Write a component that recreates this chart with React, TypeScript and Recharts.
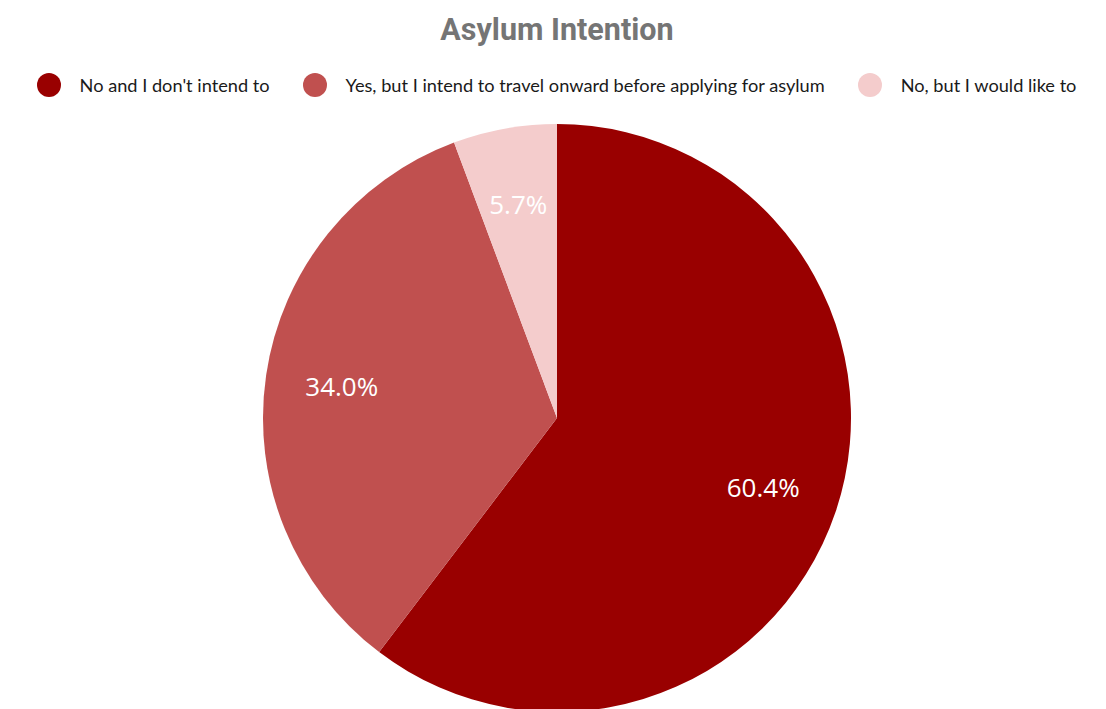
import React from 'react';
import { PieChart, Pie, Cell } from 'recharts';

const categories = [
  "No and I don't intend to",
  'Yes, but I intend to travel onward before applying for asylum',
  'No, but I would like to',
];
const values = [60.4, 34.0, 5.7];
const colors = ['#990000', '#C0504F', '#F4CCCC'];

const data = categories.map((name, i) => ({ name, value: values[i] }));

const RADIAN = Math.PI / 180;

const renderLabel = (props: any) => {
  const { cx, cy, midAngle, outerRadius, value } = props;
  const r = outerRadius * 0.74;
  const x = cx + r * Math.cos(-midAngle * RADIAN);
  const y = cy + r * Math.sin(-midAngle * RADIAN);
  return (
    <text
      x={x}
      y={y}
      fill="#ffffff"
      textAnchor="middle"
      dominantBaseline="central"
      style={{ fontFamily: '"Open Sans", sans-serif', fontSize: 26 }}
    >
      {`${Number(value).toFixed(1)}%`}
    </text>
  );
};

export default function App() {
  return (
    <div style={{ position: 'absolute', left: 0, top: 0, width: 1106, height: 709, background: '#fff', overflow: 'hidden' }}>
      <div
        style={{
          position: 'absolute',
          left: 0,
          top: 11,
          width: 1114,
          textAlign: 'center',
          fontFamily: 'Roboto, sans-serif',
          fontWeight: 700,
          fontSize: 30.5,
          color: '#757575',
          lineHeight: '38px',
        }}
      >
        Asylum Intention
      </div>
      <div
        style={{
          position: 'absolute',
          left: 0,
          top: 72,
          width: 1113,
          display: 'flex',
          justifyContent: 'center',
          alignItems: 'center',
          fontFamily: 'Lato, sans-serif',
          fontSize: 18.2,
          color: '#1a1a1a',
          height: 26,
        }}
      >
        {data.map((d, i) => (
          <div key={d.name} style={{ display: 'flex', alignItems: 'center', marginRight: i < data.length - 1 ? 33 : 0 }}>
            <span
              style={{
                display: 'inline-block',
                width: 24,
                height: 24,
                borderRadius: 12,
                background: colors[i],
                marginRight: 19,
              }}
            />
            <span style={{ whiteSpace: 'nowrap' }}>{d.name}</span>
          </div>
        ))}
      </div>
      <div style={{ position: 'absolute', left: 0, top: 0 }}>
        <PieChart width={1106} height={709} margin={{ top: 0, right: 0, bottom: 0, left: 0 }}>
          <Pie
            data={data}
            dataKey="value"
            nameKey="name"
            cx={557}
            cy={418}
            outerRadius={294}
            startAngle={90}
            endAngle={-270}
            stroke="none"
            label={renderLabel}
            labelLine={false}
            isAnimationActive={false}
          >
            {data.map((d, i) => (
              <Cell key={d.name} fill={colors[i]} />
            ))}
          </Pie>
        </PieChart>
      </div>
    </div>
  );
}
